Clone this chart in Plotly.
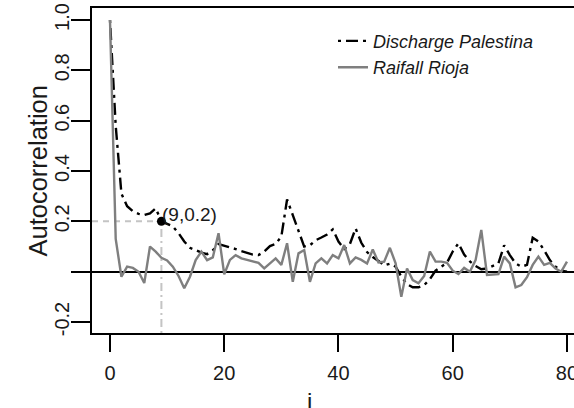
import plotly.graph_objects as go

lags = list(range(81))
discharge_palestina = [
    1.0, 0.58, 0.31, 0.26, 0.24, 0.23, 0.225, 0.232, 0.252, 0.20,
    0.19, 0.18, 0.153, 0.12, 0.095, 0.085, 0.076, 0.07, 0.085, 0.11,
    0.104, 0.095, 0.09, 0.082, 0.075, 0.068, 0.066, 0.08, 0.102, 0.11,
    0.14, 0.287, 0.225, 0.16, 0.10, 0.105, 0.125, 0.136, 0.148, 0.168,
    0.12, 0.09, 0.11, 0.172, 0.115, 0.078, 0.058, 0.043, 0.025, 0.032,
    0.02, -0.02, -0.049, -0.062, -0.062, -0.053, -0.03, 0.004, 0.02, 0.036,
    0.08, 0.113, 0.068, 0.041, 0.023, 0.01, 0.013, 0.023, 0.033, 0.105,
    0.066, 0.033, 0.02, 0.027, 0.135, 0.12, 0.086, 0.046, 0.02, 0.004,
    0.0,
]
rainfall_rioja = [
    1.0, 0.13, -0.02, 0.02, 0.015, 0.0, -0.045, 0.10, 0.08, 0.055,
    0.045, 0.02, -0.017, -0.066, -0.02, 0.046, 0.08, 0.046, 0.057, 0.153,
    -0.01, 0.047, 0.066, 0.053, 0.047, 0.04, 0.035, 0.013, 0.033, 0.053,
    0.027, 0.113, -0.04, 0.073, 0.086, -0.04, 0.033, 0.053, 0.033, 0.066,
    0.053, 0.106, 0.033, 0.057, 0.047, 0.033, 0.088, 0.037, 0.04, 0.095,
    0.033, -0.1, 0.013, -0.033, -0.046, -0.017, 0.08, 0.04, 0.04, 0.035,
    0.004, -0.009, 0.015, 0.0, 0.046, 0.166, -0.013, -0.013, -0.01, 0.06,
    0.033, -0.062, -0.053, -0.022, 0.027, 0.06, 0.027, 0.035, 0.013, 0.0,
    0.04,
]
x_ticks = [0, 20, 40, 60, 80]
y_ticks = [-0.2, 0.0, 0.2, 0.4, 0.6, 0.8, 1.0]
y_ticktext = ["-0.2", "", "0.2", "0.4", "0.6", "0.8", "1.0"]
marked_point = (9, 0.2)
marked_label = "(9,0.2)"
x_title = "i"
y_title = "Autocorrelation"

X_RANGE = [-3.15, 81.23]
Y_RANGE = [-0.2435, 1.0477]
FONT = "Liberation Sans, Arial, Helvetica, sans-serif"
TXT = "#1a1a1a"

fig = go.Figure()
fig.add_trace(go.Scatter(
    x=lags, y=discharge_palestina, mode="lines", name="Discharge Palestina",
    line=dict(color="black", width=2.4, dash="3px,5px,12px,5px"),
))
fig.add_trace(go.Scatter(
    x=lags, y=rainfall_rioja, mode="lines", name="Raifall Rioja",
    line=dict(color="#7f7f7f", width=2.4),
))

# reference guides to the marked point
fig.add_shape(type="line", xref="x", yref="y",
              x0=X_RANGE[0], x1=marked_point[0], y0=marked_point[1], y1=marked_point[1],
              line=dict(color="#c4c4c4", width=2, dash="6px,5px"), layer="below")
fig.add_shape(type="line", xref="x", yref="y",
              x0=marked_point[0], x1=marked_point[0], y0=Y_RANGE[0], y1=marked_point[1],
              line=dict(color="#c4c4c4", width=2, dash="2px,4px,8px,4px"), layer="below")
fig.add_trace(go.Scatter(
    x=[marked_point[0]], y=[marked_point[1]], mode="markers", showlegend=False,
    marker=dict(color="black", size=9),
))
fig.add_annotation(x=marked_point[0], y=marked_point[1], text=marked_label,
                   showarrow=False, xanchor="left", yanchor="bottom",
                   xshift=-1, yshift=-6,
                   font=dict(family=FONT, size=19, color=TXT))

# axis titles placed like the R layout
fig.add_annotation(xref="paper", yref="paper", x=-0.114, y=0.5, text=y_title,
                   textangle=-90, showarrow=False, xanchor="center", yanchor="middle",
                   font=dict(family=FONT, size=25.5, color=TXT))
fig.add_annotation(xref="paper", yref="paper", x=(309 - 92) / 482, y=-0.162, text=x_title,
                   showarrow=False, xanchor="center", yanchor="top",
                   font=dict(family=FONT, size=24, color=TXT))

fig.update_layout(
    width=574, height=408,
    margin=dict(l=92, r=0, t=8, b=75),
    paper_bgcolor="white", plot_bgcolor="white",
    font=dict(family=FONT, color=TXT),
    legend=dict(x=0.50, y=0.955, xanchor="left", yanchor="top",
                bgcolor="rgba(0,0,0,0)",
                font=dict(family=FONT, size=18, color=TXT, style="italic"),
                tracegroupgap=0),
    xaxis=dict(range=X_RANGE, tickvals=x_ticks, showgrid=False, zeroline=False,
               automargin=False,
               showline=True, linecolor="black", linewidth=2, mirror=True,
               ticks="outside", ticklen=17, tickwidth=2, tickcolor="black",
               ticklabelstandoff=4, ticklabeloverflow="allow",
               tickfont=dict(family=FONT, size=20, color=TXT)),
    yaxis=dict(range=Y_RANGE, tickvals=y_ticks, ticktext=y_ticktext, tickangle=-90,
               automargin=False,
               showgrid=False, zeroline=True, zerolinecolor="black", zerolinewidth=2,
               showline=True, linecolor="black", linewidth=2, mirror=False,
               ticks="outside", ticklen=19, tickwidth=2, tickcolor="black",
               ticklabelstandoff=-6,
               tickfont=dict(family=FONT, size=20, color=TXT)),
)

fig.write_html("out.html")
